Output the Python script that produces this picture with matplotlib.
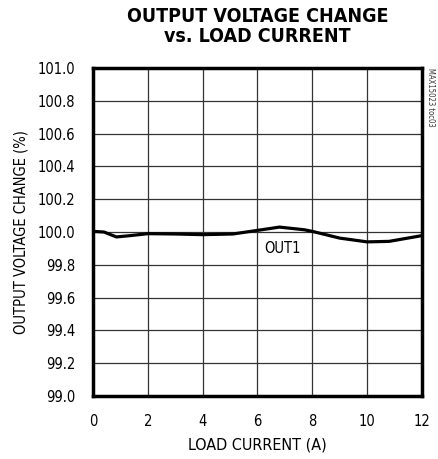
import numpy as np
import matplotlib
matplotlib.use("Agg")
import matplotlib.pyplot as plt

# valeurs
load_current = [0.0, 0.4, 0.85, 1.35, 2.0, 3.0, 4.0, 5.1, 6.0, 6.8, 7.7, 8.0, 9.0, 10.0, 10.8, 12.0]
voltage_change = [100.004, 100.0, 99.970, 99.978, 99.990, 99.988, 99.984, 99.988, 100.010,
                  100.030, 100.014, 100.004, 99.963, 99.940, 99.943, 99.978]

x_ticks = [0, 2, 4, 6, 8, 10, 12]
y_ticks = [99.0, 99.2, 99.4, 99.6, 99.8, 100.0, 100.2, 100.4, 100.6, 100.8, 101.0]

narrow = dict(family="DejaVu Sans", stretch="condensed")

fig = plt.figure(figsize=(4.39, 4.59), dpi=100)
ax = fig.add_axes([0.212, 0.137, 0.749, 0.715])

ax.plot(load_current, voltage_change, color="black", lw=2.3, solid_capstyle="round")

ax.set_xlim(0, 12)
ax.set_ylim(99.0, 101.0)
ax.set_xticks(x_ticks)
ax.set_yticks(y_ticks)
ax.set_xticklabels([str(t) for t in x_ticks], fontsize=10.5, **narrow)
ax.set_yticklabels([f"{t:.1f}" for t in y_ticks], fontsize=10.5, **narrow)
ax.tick_params(length=0)
ax.tick_params(axis="x", pad=13)
ax.tick_params(axis="y", pad=13)
ax.grid(True, color="#333333", lw=0.9)

for s in ax.spines.values():
    s.set_linewidth(2.5)

ax.set_xlabel("LOAD CURRENT (A)", fontsize=11.5, labelpad=6, **narrow)
ax.set_ylabel("OUTPUT VOLTAGE CHANGE (%)", fontsize=10.5, labelpad=6, **narrow)

ax.text(6.93, 99.90, "OUT1", fontsize=10.5, ha="center", va="center", **narrow)

fig.text(0.586, 0.985, "OUTPUT VOLTAGE CHANGE\nvs. LOAD CURRENT",
         fontsize=14, fontweight="bold", ha="center", va="top", linespacing=1.1, **narrow)

fig.text(0.980, 0.852, "MAX15023 toc03", fontsize=5.5, rotation=270,
         ha="center", va="top", color="#333333", **narrow)

fig.savefig("out.png", dpi=100)
